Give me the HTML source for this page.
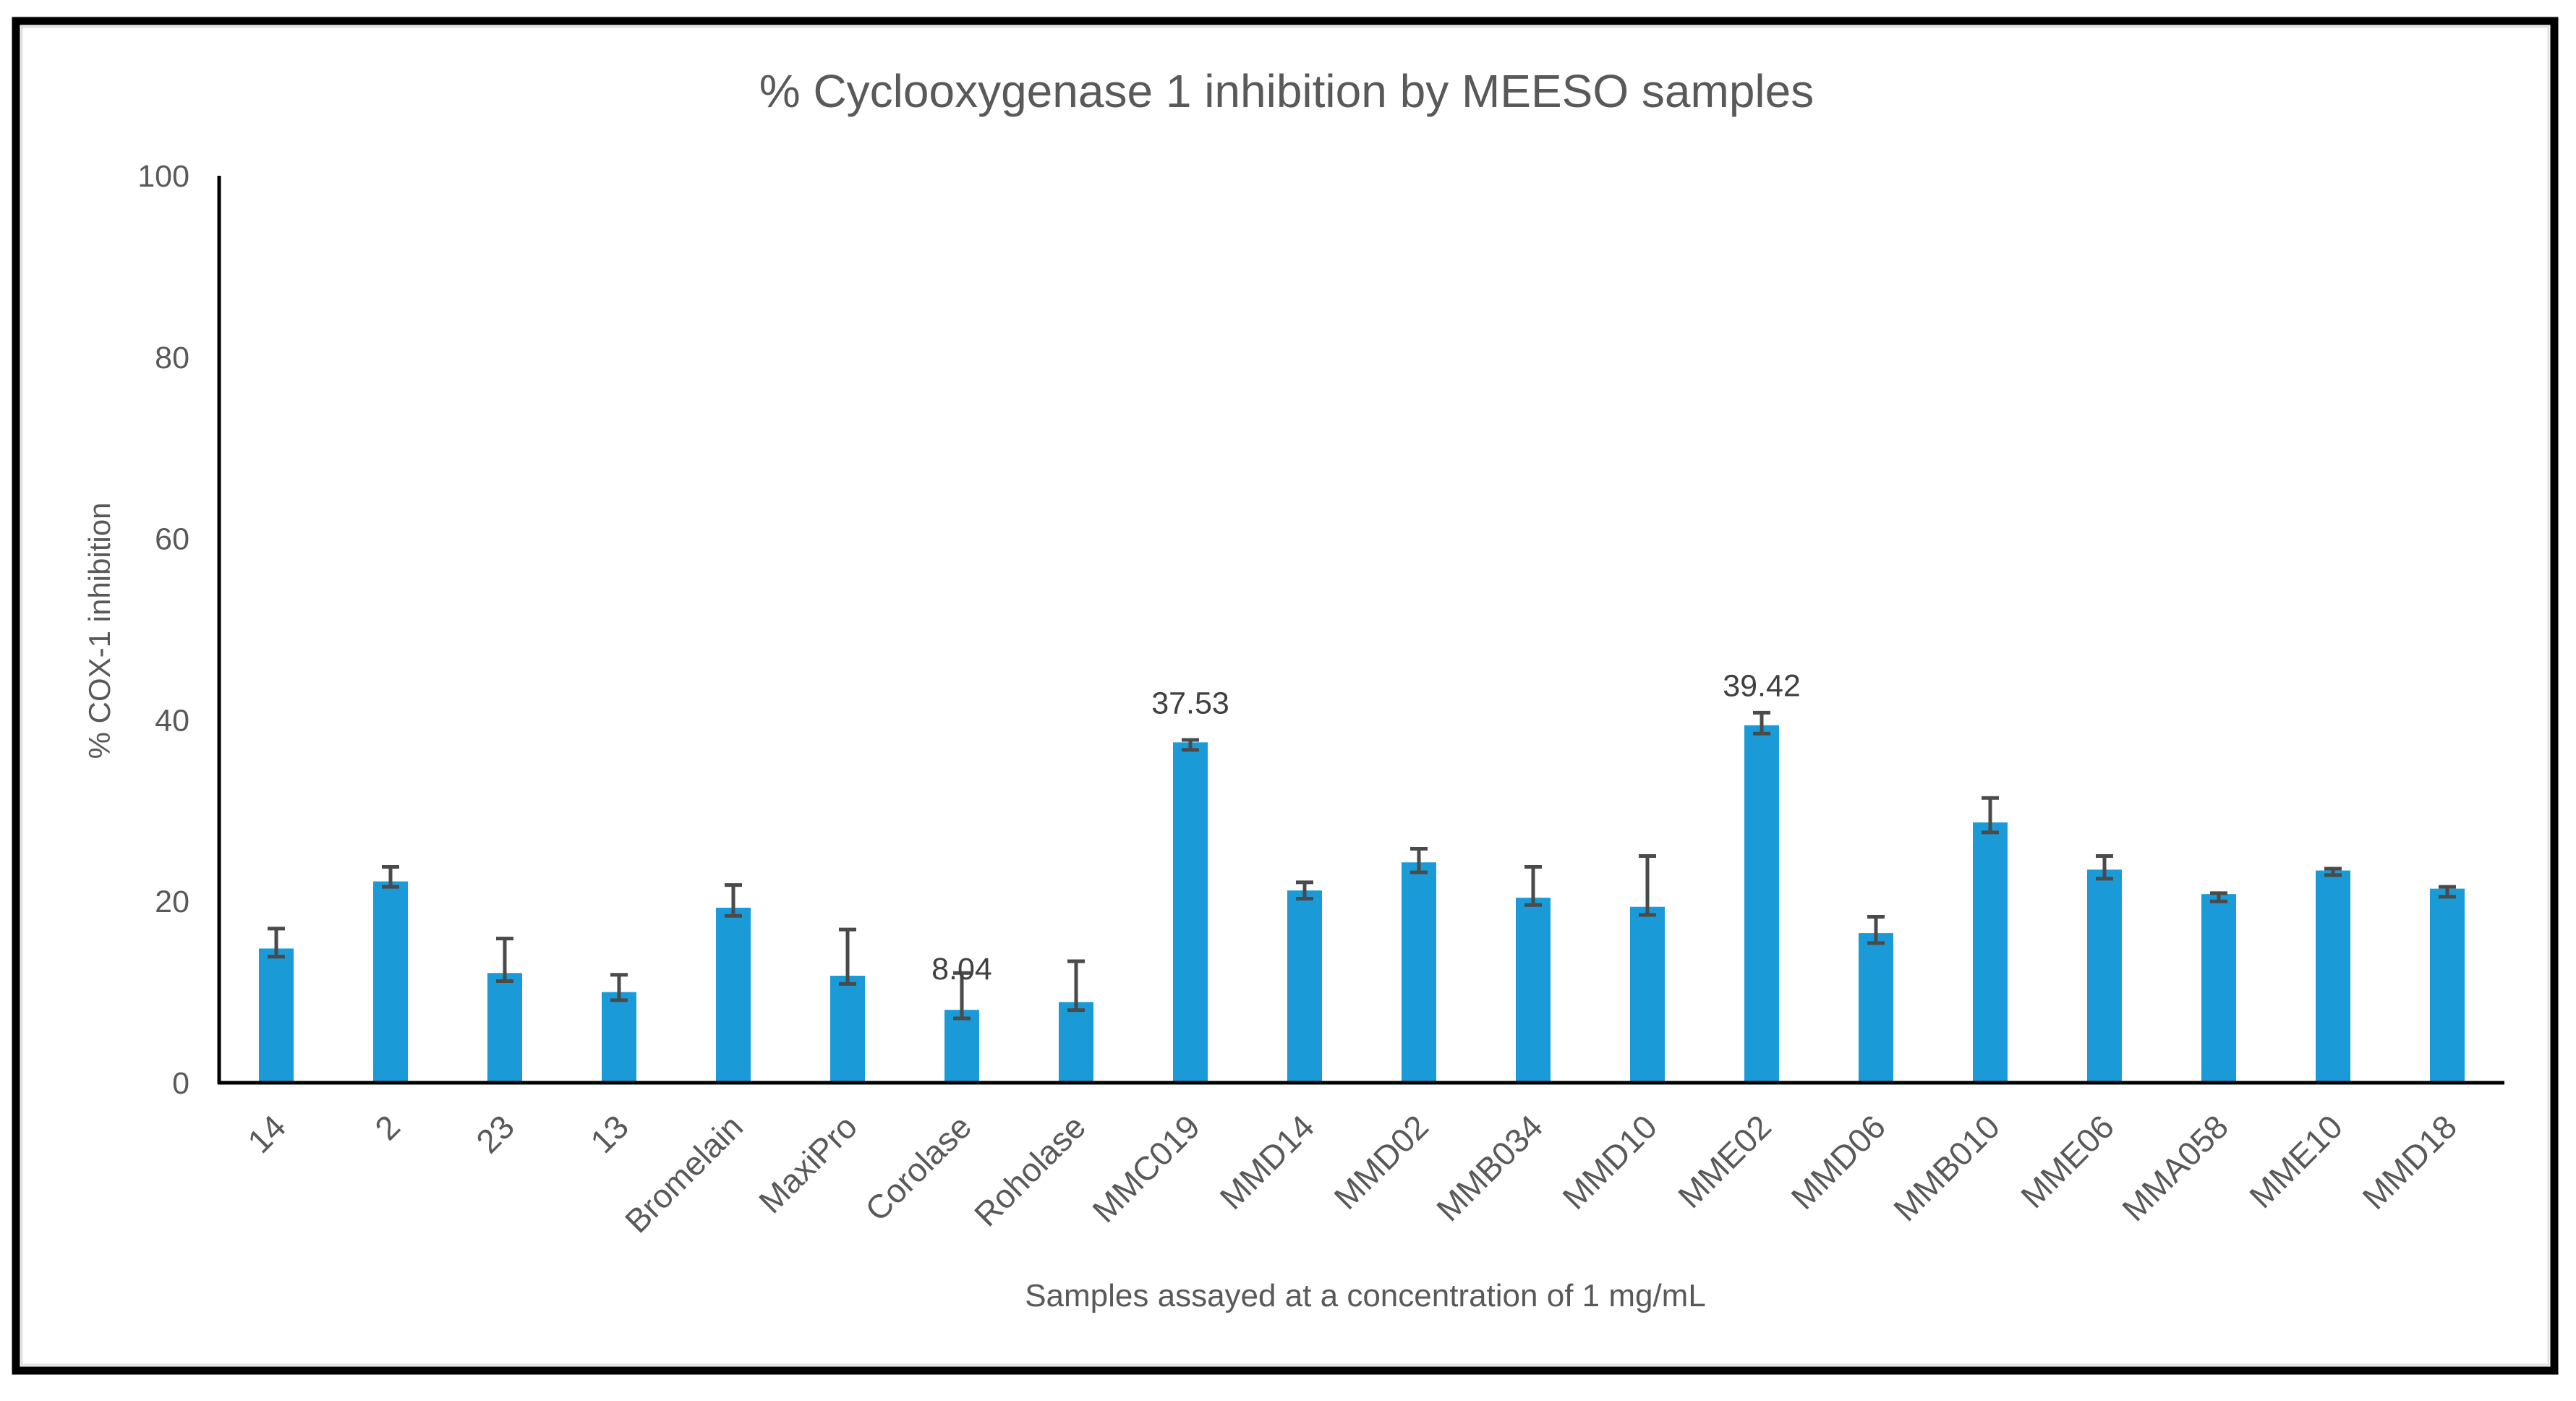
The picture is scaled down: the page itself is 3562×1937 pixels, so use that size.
<!DOCTYPE html>
<html><head><meta charset="utf-8"><style>
html,body{margin:0;padding:0;background:#fff;}
svg{display:block;font-family:"Liberation Sans",sans-serif;}
</style></head><body>
<svg id="chart" width="3562" height="1937" viewBox="0 0 3562 1937" xmlns="http://www.w3.org/2000/svg">
<rect x="22" y="29" width="3510" height="1866" fill="#fff" stroke="#000" stroke-width="11"/>
<rect x="30" y="37" width="3494" height="1850" fill="none" stroke="#e0e0e0" stroke-width="3"/>
<text x="1779" y="148" text-anchor="middle" font-size="64" fill="#595959">% Cyclooxygenase 1 inhibition by MEESO samples</text>
<text transform="translate(152,872) rotate(-90)" text-anchor="middle" font-size="42" fill="#595959">% COX-1 inhibition</text>
<text x="1888" y="1806" text-anchor="middle" font-size="44" fill="#595959">Samples assayed at a concentration of 1 mg/mL</text>
<g id="marks"></g>
</svg>
<script>
const categories = ["14","2","23","13","Bromelain","MaxiPro","Corolase","Roholase","MMC019","MMD14","MMD02","MMB034","MMD10","MME02","MMD06","MMB010","MME06","MMA058","MME10","MMD18"];
const values = [14.8,22.2,12.1,10.0,19.3,11.8,8.04,8.9,37.53,21.2,24.3,20.4,19.4,39.42,16.5,28.7,23.5,20.8,23.4,21.4];
const errUpper = [17.0,23.8,15.9,11.9,21.8,16.9,12.1,13.4,37.8,22.1,25.8,23.8,25.0,40.8,18.3,31.4,25.0,20.9,23.6,21.6];
const errLower = [13.9,21.6,11.2,9.1,18.4,10.9,7.1,8.0,36.7,20.3,23.2,19.6,18.5,38.5,15.4,27.6,22.5,20.0,22.9,20.5];
const yTicks = [0,20,40,60,80,100];
const dataLabels = {6:"8.04",8:"37.53",13:"39.42"};

const NS="http://www.w3.org/2000/svg";
const g=document.getElementById('marks');
const x0=303,x1=3463,y0=1497,yTop=243;
const step=(x1-x0)/categories.length;
const yS=v=>y0-(v/100)*(y0-yTop);
const xC=i=>x0+step*(i+0.5);
function mk(tag,attrs){const e=document.createElementNS(NS,tag);for(const k in attrs)e.setAttribute(k,attrs[k]);g.appendChild(e);return e;}

yTicks.forEach(t=>{
  const e=mk('text',{x:262,y:yS(t)+15,'text-anchor':'end','font-size':43,fill:'#595959'});
  e.textContent=t;
  
  
});
const bw=48;
categories.forEach((c,i)=>{
  const cx=xC(i);
  const b=mk('rect',{x:cx-bw/2,y:yS(values[i]),width:bw,height:y0-yS(values[i]),fill:'#1a9bd7'});
  
  
  const eb=mk('path',{d:`M${cx},${yS(errUpper[i])}V${yS(errLower[i])}M${cx-12},${yS(errUpper[i])}h24M${cx-12},${yS(errLower[i])}h24`,stroke:'#4a4a4a','stroke-width':5,fill:'none'});
  
  
  const t=mk('text',{transform:`translate(${cx+16},${y0+64}) rotate(-45)`,'text-anchor':'end','font-size':46,fill:'#595959'});
  t.textContent=c;
  
  
  if(dataLabels[i]){
    const d=mk('text',{x:cx,y:yS(values[i])-(i===6?42:40),'text-anchor':'middle','font-size':43,fill:'#404040'});
    d.textContent=dataLabels[i];
    
    
  }
});
const ya=mk('line',{x1:x0,y1:yTop,x2:x0,y2:y0+2,stroke:'#000','stroke-width':5});


const xa=mk('line',{x1:x0-2,y1:y0,x2:x1,y2:y0,stroke:'#000','stroke-width':5});


</script>
</body></html>
